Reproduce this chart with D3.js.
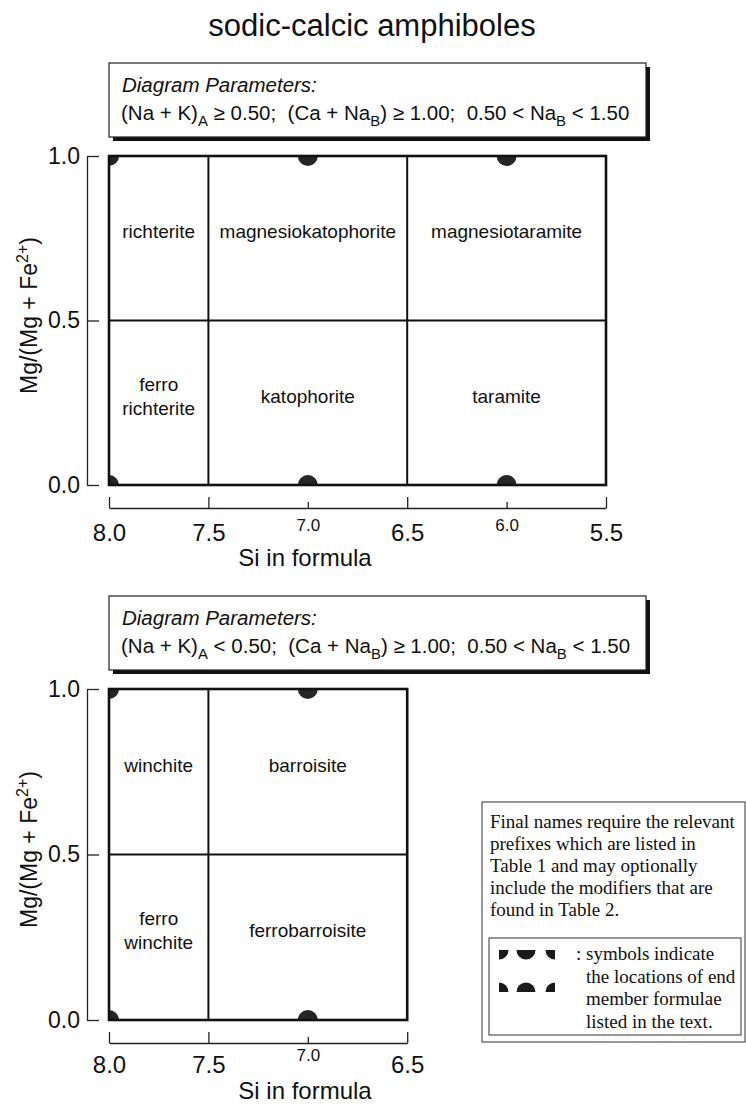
<!DOCTYPE html>
<html lang="en">
<head>
<meta charset="UTF-8">
<title>sodic-calcic amphiboles</title>
<script src="https://cdn.jsdelivr.net/npm/d3@7"></script>
<style>
  body { margin: 0; background: #fff; }
  text { font-family: "Liberation Sans", Arial, sans-serif; fill: #111; }
  .serif { font-family: "Liberation Serif", "Times New Roman", serif; }
</style>
</head>
<body>
<div id="chart"></div>
<script>
// ---- data ----
var chartTitle = "sodic-calcic amphiboles";
var xTitle = "Si in formula";
var yTicks = [0.0, 0.5, 1.0];

var topDomain = [8.0, 5.5];
var topMajor = [8.0, 7.5, 6.5, 5.5];
var topMinor = [7.0, 6.0];
var topSplitsSi = [7.5, 6.5];
var topEndSi = [8.0, 7.0, 6.0];
var topCellNames = [["richterite"], ["magnesiokatophorite"], ["magnesiotaramite"],
                    ["ferro", "richterite"], ["katophorite"], ["taramite"]];
var topCellSi = [7.75, 7.0, 6.0, 7.75, 7.0, 6.0];
var topCellMg = [0.77, 0.77, 0.77, 0.27, 0.27, 0.27];
var topParams = ["(Na + K)", "A", " \u2265 0.50;  (Ca + Na", "B", ") \u2265 1.00;  0.50 < Na", "B", " < 1.50"];

var botDomain = [8.0, 6.5];
var botMajor = [8.0, 7.5, 6.5];
var botMinor = [7.0];
var botSplitsSi = [7.5];
var botEndSi = [8.0, 7.0];
var botCellNames = [["winchite"], ["barroisite"], ["ferro", "winchite"], ["ferrobarroisite"]];
var botCellSi = [7.75, 7.0, 7.75, 7.0];
var botCellMg = [0.77, 0.77, 0.27, 0.27];
var botParams = ["(Na + K)", "A", " < 0.50;  (Ca + Na", "B", ") \u2265 1.00;  0.50 < Na", "B", " < 1.50"];

var endMg = [0.0, 1.0];
var splitMg = 0.5;

var noteLines = ["Final names require the relevant", "prefixes which are listed in",
                 "Table 1 and may optionally", "include the modifiers that are",
                 "found in Table 2."];
var keyLines = ["symbols indicate", "the locations of end", "member formulae", "listed in the text."];

// ---- drawing ----
var W = 746, H = 1106;
var svg = d3.select("#chart").append("svg")
  .attr("width", W).attr("height", H);

svg.append("text")
  .attr("x", 372).attr("y", 36)
  .attr("text-anchor", "middle")
  .style("font-size", "31px")
  .text(chartTitle);

var unit = 198.8; // px per 1.0 Si

function paramBox(y0, parts) {
  var g = svg.append("g");
  g.append("rect").attr("x", 113).attr("y", y0 + 4).attr("width", 537).attr("height", 74).attr("fill", "#111");
  g.append("rect").attr("x", 109).attr("y", y0).attr("width", 537).attr("height", 74)
    .attr("fill", "#fff").attr("stroke", "#222").attr("stroke-width", 1.2);
  g.append("text").attr("x", 122).attr("y", y0 + 29)
    .style("font-size", "20.5px").style("font-style", "italic")
    .text("Diagram Parameters:");
  var t = g.append("text").attr("x", 121).attr("y", y0 + 57)
    .style("font-size", "20.5px").style("white-space", "pre");
  parts.forEach(function(p, i) {
    var sub = i % 2 == 1;
    t.append("tspan")
      .attr("dy", sub ? 6 : (i > 0 ? -6 : 0))
      .style("font-size", sub ? "15px" : "20.5px")
      .text(p);
  });
}

function panel(o) {
  var x = d3.scaleLinear().domain(o.domain)
    .range([109, 109 + unit * (o.domain[0] - o.domain[1])]);
  var y = d3.scaleLinear().domain([0, 1]).range([o.bottom, o.top]);
  var g = svg.append("g");

  var clipId = "clip" + o.top;
  g.append("clipPath").attr("id", clipId)
    .append("rect")
    .attr("x", x.range()[0]).attr("y", o.top)
    .attr("width", x.range()[1] - x.range()[0]).attr("height", o.bottom - o.top);

  // end-member dots
  var pts = [];
  o.endSi.forEach(function(s) { endMg.forEach(function(m) { pts.push([s, m]); }); });
  g.append("g").attr("clip-path", "url(#" + clipId + ")")
    .selectAll("circle").data(pts).enter().append("circle")
    .attr("cx", function(d) { return x(d[0]); })
    .attr("cy", function(d) { return y(d[1]); })
    .attr("r", 10)
    .attr("fill", "#262626");

  // dividers
  g.selectAll(".vs").data(o.splits).enter().append("line")
    .attr("x1", function(d) { return x(d); }).attr("x2", function(d) { return x(d); })
    .attr("y1", o.top).attr("y2", o.bottom)
    .attr("stroke", "#111").attr("stroke-width", 2);
  g.append("line")
    .attr("x1", x.range()[0]).attr("x2", x.range()[1])
    .attr("y1", y(splitMg)).attr("y2", y(splitMg))
    .attr("stroke", "#111").attr("stroke-width", 2);
  g.append("rect")
    .attr("x", x.range()[0]).attr("y", o.top)
    .attr("width", x.range()[1] - x.range()[0]).attr("height", o.bottom - o.top)
    .attr("fill", "none").attr("stroke", "#111").attr("stroke-width", 2.6);

  // cell names
  o.names.forEach(function(lines, i) {
    var cy = y(o.cellMg[i]);
    lines.forEach(function(l, j) {
      g.append("text")
        .attr("x", x(o.cellSi[i]))
        .attr("y", cy + (j - (lines.length - 1) / 2) * 24)
        .attr("dy", "0.35em")
        .attr("text-anchor", "middle")
        .style("font-size", "19px")
        .text(l);
    });
  });

  // y bracket axis
  var ya = g.append("g").attr("transform", "translate(87,0)")
    .call(d3.axisLeft(y).tickValues(yTicks).tickSize(-12).tickSizeOuter(0)
      .tickPadding(7).tickFormat(d3.format(".1f")));
  ya.selectAll("text").style("font-size", "23px");
  ya.selectAll("line, path").attr("stroke", "#222").attr("stroke-width", 1.3);

  // x bracket axis
  var xa = g.append("g").attr("transform", "translate(0," + o.axisY + ")")
    .call(d3.axisBottom(x).tickValues(o.major).tickSize(-11).tickSizeOuter(0)
      .tickPadding(o.padMajor).tickFormat(d3.format(".1f")));
  xa.selectAll("text").style("font-size", "24px");
  xa.selectAll("line, path").attr("stroke", "#222").attr("stroke-width", 1.3);
  var xm = g.append("g").attr("transform", "translate(0," + o.axisY + ")")
    .call(d3.axisBottom(x).tickValues(o.minor).tickSize(-6)
      .tickPadding(o.padMinor).tickFormat(d3.format(".1f")));
  xm.select(".domain").remove();
  xm.selectAll("text").style("font-size", "17px");
  xm.selectAll("line").attr("stroke", "#222").attr("stroke-width", 1.3);

  g.selectAll(".tick text").style("fill", "#111").style("font-family", "'Liberation Sans', Arial, sans-serif");

  g.append("text")
    .attr("x", 305).attr("y", o.titleY)
    .attr("text-anchor", "middle")
    .style("font-size", "24px")
    .text(xTitle);

  var yt = g.append("text")
    .attr("transform", "translate(37," + (y(0.5) - 5) + ") rotate(-90)")
    .attr("text-anchor", "middle")
    .style("font-size", "23px");
  yt.append("tspan").text("Mg/(Mg + Fe");
  yt.append("tspan").attr("dy", -9).style("font-size", "16px").text("2+");
  yt.append("tspan").attr("dy", 9).text(")");
}

paramBox(63, topParams);
panel({ domain: topDomain, top: 156, bottom: 485, splits: topSplitsSi, endSi: topEndSi,
        names: topCellNames, cellSi: topCellSi, cellMg: topCellMg,
        major: topMajor, minor: topMinor, axisY: 508, padMajor: 16, padMinor: 11, titleY: 566 });

paramBox(596, botParams);
panel({ domain: botDomain, top: 689, bottom: 1020, splits: botSplitsSi, endSi: botEndSi,
        names: botCellNames, cellSi: botCellSi, cellMg: botCellMg,
        major: botMajor, minor: botMinor, axisY: 1043, padMajor: 13, padMinor: 6, titleY: 1099 });

// note box
var note = svg.append("g");
note.append("rect").attr("x", 482).attr("y", 802).attr("width", 263).attr("height", 240)
  .attr("fill", "#fff").attr("stroke", "#333").attr("stroke-width", 1);
note.selectAll(".nl").data(noteLines).enter().append("text")
  .attr("class", "serif")
  .attr("x", 490).attr("y", function(d, i) { return 828 + i * 22; })
  .style("font-size", "19px")
  .text(function(d) { return d; });
note.append("rect").attr("x", 489).attr("y", 938).attr("width", 252).attr("height", 97)
  .attr("fill", "none").attr("stroke", "#333").attr("stroke-width", 1);

// key symbols: dots cut by a top edge (row 1) and a bottom edge (row 2)
var arc = d3.arc().innerRadius(0).outerRadius(9.5);
var keyArcs = [
  { x: 499, y: 950, a0: Math.PI / 2, a1: Math.PI },
  { x: 526, y: 950, a0: Math.PI / 2, a1: 3 * Math.PI / 2 },
  { x: 555, y: 950, a0: Math.PI, a1: 3 * Math.PI / 2 },
  { x: 499, y: 992, a0: 0, a1: Math.PI / 2 },
  { x: 526, y: 992, a0: -Math.PI / 2, a1: Math.PI / 2 },
  { x: 555, y: 992, a0: -Math.PI / 2, a1: 0 }
];
note.selectAll(".ka").data(keyArcs).enter().append("path")
  .attr("transform", function(d) { return "translate(" + d.x + "," + d.y + ")"; })
  .attr("d", function(d) { return arc({ startAngle: d.a0, endAngle: d.a1 }); })
  .attr("fill", "#1a1a1a");
note.append("text").attr("class", "serif").attr("x", 576).attr("y", 960)
  .style("font-size", "19px").text(":");
note.selectAll(".kl").data(keyLines).enter().append("text")
  .attr("class", "serif")
  .attr("x", 586).attr("y", function(d, i) { return 960 + i * 22.5; })
  .style("font-size", "19px")
  .text(function(d) { return d; });
</script>
</body>
</html>
